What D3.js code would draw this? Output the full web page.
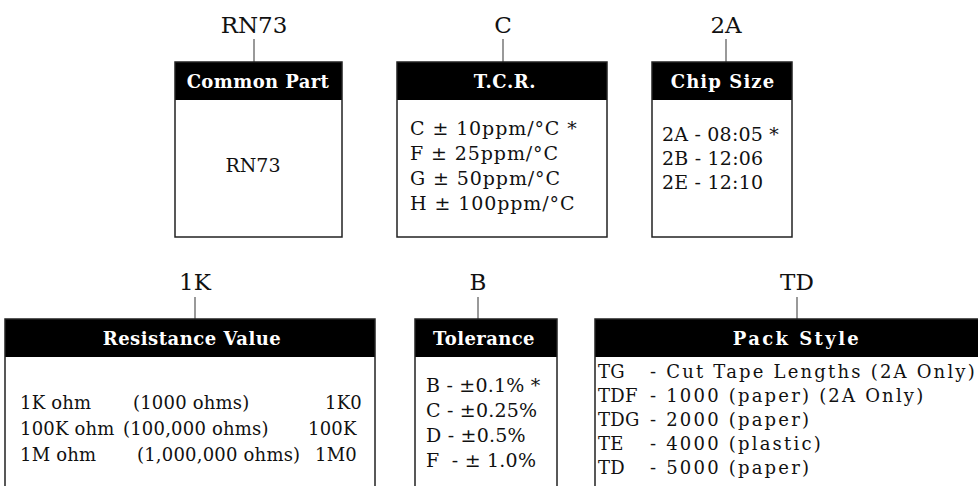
<!DOCTYPE html>
<html lang="en">
<head>
    <meta charset="UTF-8">
    <title>RN73 Part Numbering</title>
    <script src="https://d3js.org/d3.v7.min.js"></script>
    <style>
        body {
            margin: 0;
            padding: 0;
            background-color: #fff;
            font-family: "DejaVu Serif", serif;
        }
        .box rect.frame {
            fill: none;
            stroke: #222;
            stroke-width: 1.5px;
        }
        .box rect.head {
            fill: #000;
        }
        .box .title {
            fill: #fff;
            font-weight: bold;
            font-size: 18px;
        }
        .code-label {
            font-size: 23px;
            fill: #111;
        }
        .connector {
            stroke: #555;
            stroke-width: 1.2px;
        }
        .option {
            fill: #111;
        }
    </style>
</head>
<body>
    <svg width="978" height="486"></svg>
    <script>
        // part number fields, in order
        const fieldCodes = ["RN73", "C", "2A", "1K", "B", "TD"];
        const fieldTitles = ["Common Part", "T.C.R.", "Chip Size", "Resistance Value", "Tolerance", "Pack Style"];

        const commonPartOptions = ["RN73"];
        const tcrOptions = ["C \u00b1 10ppm/\u00b0C *", "F \u00b1 25ppm/\u00b0C", "G \u00b1 50ppm/\u00b0C", "H \u00b1 100ppm/\u00b0C"];
        const chipSizeOptions = ["2A - 08:05 *", "2B - 12:06", "2E - 12:10"];
        const resistanceNames = ["1K ohm", "100K ohm", "1M ohm"];
        const resistanceOhms = ["(1000 ohms)", "(100,000 ohms)", "(1,000,000 ohms)"];
        const resistanceCodes = ["1K0", "100K", "1M0"];
        const toleranceOptions = ["B - \u00b10.1% *", "C - \u00b10.25%", "D - \u00b10.5%", "F  - \u00b1 1.0%"];
        const packCodes = ["TG", "TDF", "TDG", "TE", "TD"];
        const packDescriptions = ["- Cut Tape Lengths (2A Only)", "- 1000 (paper) (2A Only)", "- 2000 (paper)", "- 4000 (plastic)", "- 5000 (paper)"];

        const svg = d3.select("svg");

        // layout of each box (pixels)
        const layout = [
            { x0: 175, x1: 342, top: 62, bottom: 237, cx: 254, labelY: 33, lineTop: 39, tx: 258, ls: 0.4 },
            { x0: 397, x1: 607, top: 62, bottom: 237, cx: 503, labelY: 33, lineTop: 39, tx: 505, ls: 0.6 },
            { x0: 652, x1: 792, top: 62, bottom: 237, cx: 726, labelY: 33, lineTop: 39, tx: 723, ls: 1.1 },
            { x0: 5, x1: 375, top: 319, bottom: 500, cx: 195, labelY: 290, lineTop: 297, tx: 192, ls: 0.5 },
            { x0: 415, x1: 557, top: 319, bottom: 500, cx: 478, labelY: 290, lineTop: 297, tx: 484, ls: 0.4 },
            { x0: 595, x1: 1000, top: 319, bottom: 500, cx: 797, labelY: 290, lineTop: 297, tx: 797, ls: 2.4 }
        ];
        const headH = 38;

        const fields = fieldCodes.map((code, i) => ({ code, title: fieldTitles[i], ...layout[i] }));

        svg.selectAll("line.connector")
            .data(fields)
            .enter().append("line")
            .attr("class", "connector")
            .attr("x1", d => d.cx).attr("x2", d => d.cx)
            .attr("y1", d => d.lineTop).attr("y2", d => d.top);

        svg.selectAll("text.code-label")
            .data(fields)
            .enter().append("text")
            .attr("class", "code-label")
            .attr("x", d => d.cx)
            .attr("y", d => d.labelY)
            .attr("text-anchor", "middle")
            .text(d => d.code);

        const box = svg.selectAll("g.box")
            .data(fields)
            .enter().append("g")
            .attr("class", "box");

        box.append("rect")
            .attr("class", "head")
            .attr("x", d => d.x0).attr("y", d => d.top)
            .attr("width", d => d.x1 - d.x0).attr("height", headH);

        box.append("rect")
            .attr("class", "frame")
            .attr("x", d => d.x0).attr("y", d => d.top)
            .attr("width", d => d.x1 - d.x0).attr("height", d => d.bottom - d.top);

        box.append("text")
            .attr("class", "title")
            .attr("x", d => d.tx)
            .attr("y", d => d.top + 26)
            .attr("text-anchor", "middle")
            .style("letter-spacing", d => d.ls + "px")
            .text(d => d.title);

        // helper: list of option lines inside a box
        function optionList(lines, x, y0, step, size, spacing, anchor) {
            const y = d3.scaleLinear().domain([0, 1]).range([y0, y0 + step]);
            const xs = Array.isArray(x) ? x : lines.map(() => x);
            svg.append("g").selectAll("text")
                .data(lines)
                .enter().append("text")
                .attr("class", "option")
                .attr("xml:space", "preserve")
                .style("white-space", "pre")
                .style("font-size", size + "px")
                .style("letter-spacing", spacing + "px")
                .attr("x", (d, i) => xs[i])
                .attr("y", (d, i) => y(i))
                .attr("text-anchor", anchor || "start")
                .text(d => d);
        }

        optionList(commonPartOptions, 253, 172, 25, 19, 0, "middle");
        optionList(tcrOptions, 410, 135, 25, 19, 0.9);
        optionList(chipSizeOptions, 662, 141, 24, 19, 0.2);
        optionList(resistanceNames, 20, 409, 26, 18, 0.2);
        // resistance middle and right columns sit at slightly different offsets per row
        optionList(resistanceOhms, [133, 123, 137], 409, 26, 18, 0.2);
        optionList(resistanceCodes, [325, 308, 315], 409, 26, 18, 0.2);
        optionList(toleranceOptions, 426, 392, 25, 19, 0.2);
        optionList(packCodes, 598, 378, 24, 18, 0.3);
        optionList(packDescriptions, 650, 378, 24, 18, 2.2);
    </script>
</body>
</html>
